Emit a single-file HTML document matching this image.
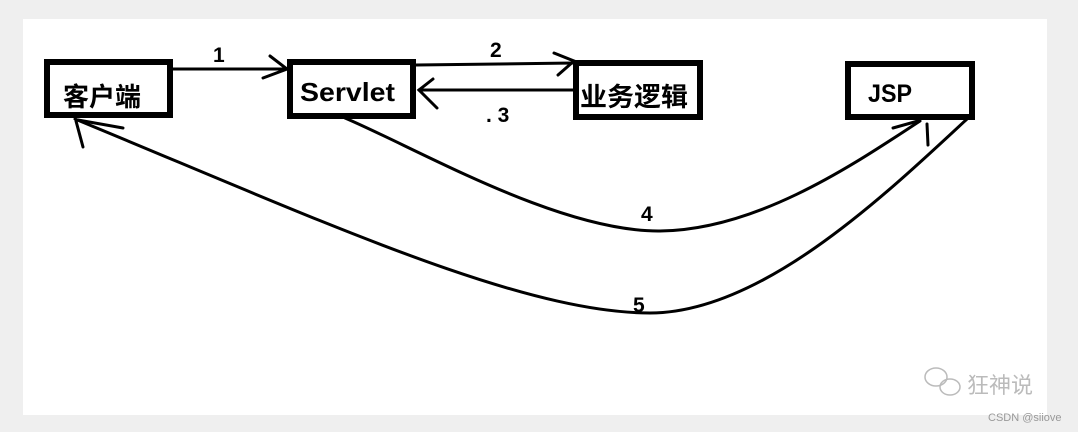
<!DOCTYPE html>
<html><head><meta charset="utf-8"><style>
html,body{margin:0;padding:0;background:#efefef;width:1078px;height:432px;overflow:hidden}
svg{display:block}
text{font-family:"Liberation Sans","Noto Sans CJK SC",sans-serif;font-weight:bold;fill:#000}
</style></head><body>
<svg width="1078" height="432" viewBox="0 0 1078 432">
<rect x="0" y="0" width="1078" height="432" fill="#efefef"/>
<rect x="23" y="19" width="1024" height="396" fill="#fff"/>
<g fill="none" stroke="#000" stroke-width="6">
<rect x="47" y="62" width="123" height="53"/>
<rect x="290" y="62" width="123" height="54"/>
<rect x="576" y="63" width="124" height="54"/>
<rect x="848" y="64" width="124" height="53"/>
</g>
<g fill="none" stroke="#000" stroke-width="3" stroke-linecap="round">
<path d="M173 69 L288 69"/><path d="M270 56 L287 69 L263 78"/>
<path d="M416 65 L574 63"/><path d="M554 53 L574 61 L558 75"/>
<path d="M574 90 L419 90"/><path d="M433 79 L419 90 L437 108"/>
<path d="M345 118 C420 150 560 232 660 231 C760 230 860 160 920 121"/>
<path d="M893 128 L918 121"/><path d="M927 124 L928 145"/>
<path d="M967 119 C880 200 760 313 650 313 C520 313 320 220 75 119"/>
<path d="M76 121 L83 147"/><path d="M78 120 L123 128"/>
</g>
<text x="213" y="62" font-size="21">1</text>
<text x="490" y="57" font-size="21">2</text>
<text x="486" y="122" font-size="21">. 3</text>
<text x="641" y="221" font-size="21">4</text>
<text x="633" y="312" font-size="21">5</text>
<text x="63" y="106" font-size="26">客户端</text>
<text x="300" y="101" font-size="26" textLength="95" lengthAdjust="spacingAndGlyphs">Servlet</text>
<text x="580" y="106" font-size="26" textLength="108" lengthAdjust="spacingAndGlyphs">业务逻辑</text>
<text x="868" y="102" font-size="25" textLength="44" lengthAdjust="spacingAndGlyphs">JSP</text>
<g fill="none" stroke="#bbb" stroke-width="1.5">
<ellipse cx="936" cy="377" rx="11" ry="9"/><ellipse cx="950" cy="387" rx="10" ry="8"/>
</g>
<text x="967" y="393" font-size="22" style="fill:#bbb;font-weight:normal">狂神说</text>
<text x="988" y="421" font-size="11" style="fill:#999;font-weight:normal">CSDN @siiove</text>
</svg>
</body></html>
